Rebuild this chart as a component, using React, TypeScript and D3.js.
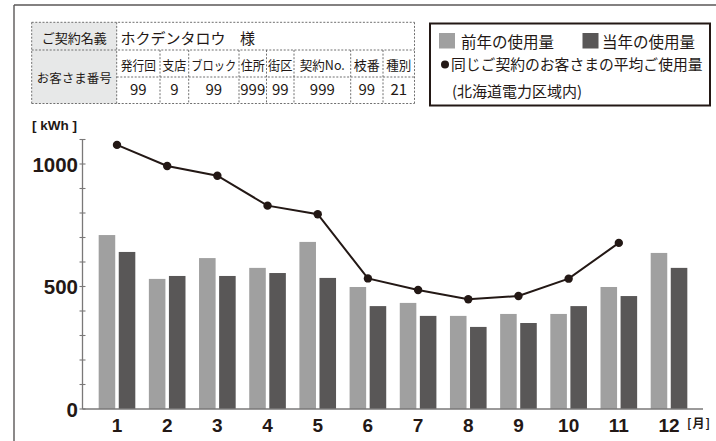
import React from "react";
import * as d3 from "d3";

const months = ["1", "2", "3", "4", "5", "6", "7", "8", "9", "10", "11", "12"];
const prevYear = [710, 531, 616, 576, 682, 498, 433, 380, 388, 388, 498, 637];
const thisYear = [641, 543, 543, 555, 535, 420, 380, 335, 351, 420, 461, 576];
const average: (number | null)[] = [1078, 992, 952, 830, 795, 533, 486, 448, 461, 532, 678, null];
const yTickLabels = [0, 500, 1000];
const yMinorTicks = d3.range(0, 1101, 100);

const seriesKeys = ["prev", "cur"];
const seriesNames = ["前年の使用量", "当年の使用量"];
const avgName = "同じご契約のお客さまの平均ご使用量";
const avgNote = "(北海道電力区域内)";

const nameLabel = "ご契約名義";
const nameValue = "ホクデンタロウ";
const nameSuffix = "様";
const custLabel = "お客さま番号";
const custHeaders = ["発行回", "支店", "ブロック", "住所", "街区", "契約No.", "枝番", "種別"];
const custValues = ["99", "9", "99", "999", "99", "999", "99", "21"];

const unitLabel = "[ kWh ]";
const monthUnit = "[月]";

const W = 716;
const H = 441;
const LIGHT = "#a0a0a0";
const DARK = "#595757";
const INK = "#231815";
const JP = "'Noto Sans CJK JP', 'Noto Sans', sans-serif";
const NUM = "'Liberation Sans', Arial, sans-serif";

// table geometry
const colEdges = [31.7, 116.7, 160, 188.7, 239, 266.5, 294, 350.7, 383, 414.5];
const rowEdges = [22.3, 50, 77, 103.5];
const headerWidths = [35, 24, 45, 24, 24.5, 45, 26, 25];

export default function App() {
  const x = d3.scaleBand<string>().domain(months).range([91.9, 694.1]).paddingInner(0.27).paddingOuter(0.135);
  const xs = d3.scaleBand<string>().domain(seriesKeys).range([0, x.bandwidth()]).paddingInner(0.175);
  const y = d3.scaleLinear().domain([0, 1100]).range([409, 139.5]);
  const axisX = 82.5;
  const cx = (m: string) => (x(m) as number) + x.bandwidth() / 2;

  const pts = months
    .map((m, i) => ({ m, v: average[i] }))
    .filter((d) => d.v != null) as { m: string; v: number }[];
  const line = d3
    .line<{ m: string; v: number }>()
    .x((d) => cx(d.m))
    .y((d) => y(d.v));

  const dash = "2 1.6";
  const dashColor = "#6f6f6f";

  const tableLines: JSX.Element[] = [];
  const L = colEdges[0];
  const R = colEdges[colEdges.length - 1];
  // horizontal lines
  tableLines.push(<line key="h0" x1={L} x2={R} y1={rowEdges[0]} y2={rowEdges[0]} />);
  tableLines.push(<line key="h1" x1={L} x2={R} y1={rowEdges[1]} y2={rowEdges[1]} />);
  tableLines.push(<line key="h2" x1={colEdges[1]} x2={R} y1={rowEdges[2]} y2={rowEdges[2]} />);
  tableLines.push(<line key="h3" x1={L} x2={R} y1={rowEdges[3]} y2={rowEdges[3]} />);
  // vertical lines
  tableLines.push(<line key="v0" x1={L} x2={L} y1={rowEdges[0]} y2={rowEdges[3]} />);
  tableLines.push(<line key="v1" x1={colEdges[1]} x2={colEdges[1]} y1={rowEdges[0]} y2={rowEdges[3]} />);
  tableLines.push(<line key="vR" x1={R} x2={R} y1={rowEdges[0]} y2={rowEdges[3]} />);
  for (let i = 2; i < colEdges.length - 1; i++) {
    tableLines.push(
      <line key={"v" + i} x1={colEdges[i]} x2={colEdges[i]} y1={rowEdges[1]} y2={rowEdges[3]} />
    );
  }

  return (
    <svg width={W} height={H} style={{ position: "absolute", left: 0, top: 0, background: "#fff" }}>
      {/* outer frame */}
      <line x1={14} x2={W} y1={5} y2={5} stroke="#5a5757" strokeWidth={1.4} />
      <line x1={14} x2={14} y1={5} y2={H} stroke="#5a5757" strokeWidth={1.4} />

      {/* table */}
      <rect x={L} y={rowEdges[0]} width={colEdges[1] - L} height={rowEdges[3] - rowEdges[0]} fill="#e7e8e8" />
      <g stroke={dashColor} strokeWidth={1} strokeDasharray={dash}>
        {tableLines}
      </g>
      <g fontFamily={JP} fill={INK}>
        <text x={(L + colEdges[1]) / 2} y={43} fontSize={13} textAnchor="middle">{nameLabel}</text>
        <text x={120.5} y={44} fontSize={15}>{nameValue}</text>
        <text x={240} y={44} fontSize={15}>{nameSuffix}</text>
        <text x={(L + colEdges[1]) / 2} y={82.5} fontSize={12.5} textAnchor="middle">{custLabel}</text>
        {custHeaders.map((h, i) => (
          <text
            key={h}
            x={(colEdges[i + 1] + colEdges[i + 2]) / 2}
            y={69.5}
            fontSize={13}
            textAnchor="middle"
            textLength={headerWidths[i]}
            lengthAdjust="spacingAndGlyphs"
          >
            {h}
          </text>
        ))}
        {custValues.map((v, i) => (
          <text key={i} x={(colEdges[i + 1] + colEdges[i + 2]) / 2} y={95} fontSize={15} textAnchor="middle">
            {v}
          </text>
        ))}
      </g>

      {/* legend */}
      <rect x={430} y={23.5} width={280} height={82} fill="none" stroke={INK} strokeWidth={2} />
      <rect x={439} y={33} width={16} height={15.5} fill={LIGHT} />
      <text x={461} y={47.5} fontFamily={JP} fontSize={15.5} fill={INK}>{seriesNames[0]}</text>
      <rect x={582.5} y={33} width={16} height={15.5} fill={DARK} />
      <text x={602} y={47.5} fontFamily={JP} fontSize={15.5} fill={INK}>{seriesNames[1]}</text>
      <circle cx={445} cy={64.5} r={4} fill={INK} />
      <text x={451} y={70} fontFamily={JP} fontSize={14.8} fill={INK}>{avgName}</text>
      <text x={452} y={97} fontFamily={JP} fontSize={15} fill={INK}>{avgNote}</text>

      {/* unit */}
      <text x={32} y={130} fontFamily={NUM} fontWeight="bold" fontSize={13.5} fill={INK}>{unitLabel}</text>

      {/* bars */}
      {months.map((m, i) => (
        <g key={m} transform={`translate(${x(m)},0)`}>
          <rect x={xs("prev")} y={y(prevYear[i])} width={xs.bandwidth()} height={y(0) - y(prevYear[i])} fill={LIGHT} />
          <rect x={xs("cur")} y={y(thisYear[i])} width={xs.bandwidth()} height={y(0) - y(thisYear[i])} fill={DARK} />
        </g>
      ))}

      {/* axes */}
      <line x1={axisX} x2={axisX} y1={y(1100)} y2={y(0)} stroke="#7a7878" strokeWidth={1.3} />
      {yMinorTicks.map((t) => (
        <line key={t} x1={axisX - 3} x2={axisX + 3} y1={y(t)} y2={y(t)} stroke="#7a7878" strokeWidth={1.1} />
      ))}
      <line x1={axisX} x2={703} y1={y(0)} y2={y(0)} stroke="#7a7878" strokeWidth={1.5} />
      {yTickLabels.map((t) => (
        <text key={t} x={78} y={y(t) + 7.5} textAnchor="end" fontFamily={NUM} fontWeight="bold" fontSize={20.5} fill={INK}>
          {t}
        </text>
      ))}
      {months.map((m) => (
        <text key={m} x={cx(m)} y={431.5} textAnchor="middle" fontFamily={NUM} fontWeight="bold" fontSize={19} fill={INK}>
          {m}
        </text>
      ))}
      <text x={687} y={428} fontFamily={JP} fontWeight="bold" fontSize={12} letterSpacing={1} fill={INK}>{monthUnit}</text>

      {/* average line */}
      <path d={line(pts) || ""} fill="none" stroke={INK} strokeWidth={2} />
      {pts.map((d) => (
        <circle key={d.m} cx={cx(d.m)} cy={y(d.v)} r={4.2} fill={INK} />
      ))}
    </svg>
  );
}
